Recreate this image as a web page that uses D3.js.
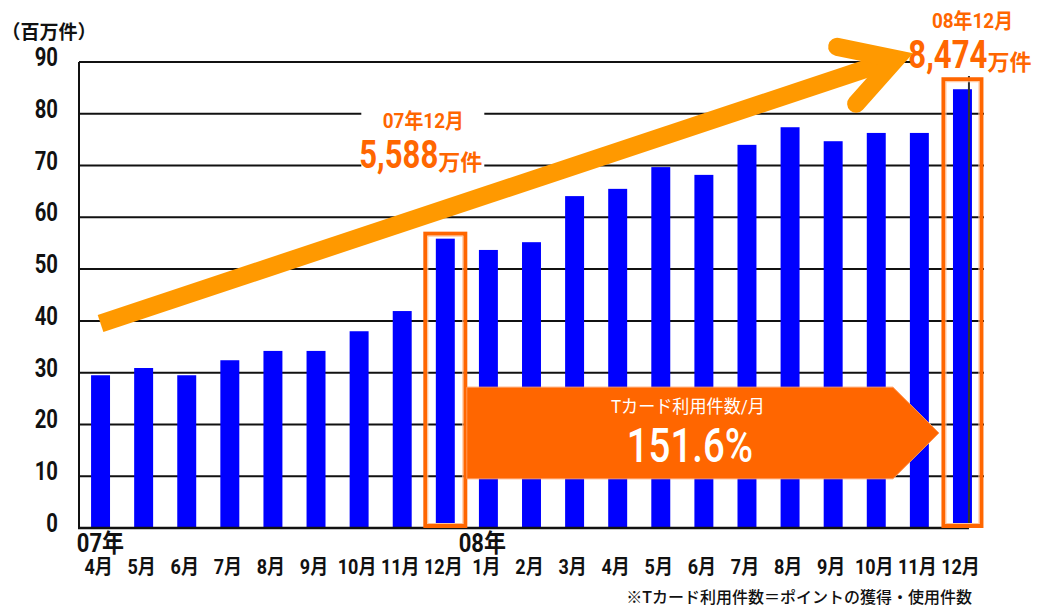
<!DOCTYPE html>
<html>
<head>
<meta charset="utf-8">
<script src="https://cdn.jsdelivr.net/npm/d3@7"></script>
<style>
  html, body { margin: 0; padding: 0; background: #fff; }
  text { font-family: Roboto, "Noto Sans CJK JP", sans-serif; }
</style>
</head>
<body>
<div id="chart"></div>
<script>
const periods = ["2007-04", "2007-05", "2007-06", "2007-07", "2007-08", "2007-09", "2007-10", "2007-11", "2007-12",
                 "2008-01", "2008-02", "2008-03", "2008-04", "2008-05", "2008-06", "2008-07", "2008-08", "2008-09",
                 "2008-10", "2008-11", "2008-12"];
const monthLabels = ["4月", "5月", "6月", "7月", "8月", "9月", "10月", "11月", "12月",
                     "1月", "2月", "3月", "4月", "5月", "6月", "7月", "8月", "9月", "10月", "11月", "12月"];
const values = [29.5, 30.9, 29.5, 32.4, 34.2, 34.2, 38.0, 41.9, 55.88,
                53.7, 55.2, 64.1, 65.5, 69.7, 68.2, 74.0, 77.4, 74.7, 76.3, 76.3, 84.74];
const yTicks = [0, 10, 20, 30, 40, 50, 60, 70, 80, 90];
const yearLabels = ["07年", "08年"];
const yearStarts = ["2007-04", "2008-01"];
const highlightPeriods = ["2007-12", "2008-12"];
const highlightTitles = ["07年12月", "08年12月"];
const highlightNumbers = ["5,588", "8,474"];
const unitLabel = "（百万件）";
const bannerLines = ["Tカード利用件数/月", "151.6%"];
const note = "※Tカード利用件数＝ポイントの獲得・使用件数";

const width = 1038, height = 609;
const orange = "#ff6600", arrowColor = "#ff9900", blue = "#0000ff";

const svg = d3.select("#chart").append("svg")
    .attr("width", width)
    .attr("height", height);

const x = d3.scaleBand()
    .domain(periods)
    .range([79, 984])
    .paddingInner(0.56)
    .paddingOuter(0.28);

const y = d3.scaleLinear()
    .domain([0, 90])
    .range([528, 62]);

const xc = p => x(p) + x.bandwidth() / 2;

// condensed text helper
function label(parent, str, px, py, size, weight, anchor, fill, sx) {
    return parent.append("text")
        .attr("transform", `translate(${px},${py}) scale(${sx},1)`)
        .attr("text-anchor", anchor)
        .style("font-size", size + "px")
        .style("font-weight", weight)
        .style("fill", fill)
        .text(str);
}

// gridlines
svg.append("g").selectAll("line")
    .data(yTicks.filter(d => d > 0))
    .enter().append("line")
    .attr("x1", 79).attr("x2", 984)
    .attr("y1", d => y(d)).attr("y2", d => y(d))
    .attr("stroke", "#111")
    .attr("stroke-width", 2);

// bars
svg.append("g").selectAll("rect")
    .data(values)
    .enter().append("rect")
    .attr("x", (d, i) => x(periods[i]))
    .attr("y", d => y(d))
    .attr("width", x.bandwidth())
    .attr("height", d => y(0) - y(d))
    .attr("fill", blue);

// frame
const lastX = xc(periods[periods.length - 1]) + 6.5;
svg.append("line").attr("x1", 79).attr("x2", 79).attr("y1", y(90)).attr("y2", y(0))
    .attr("stroke", "#111").attr("stroke-width", 2);
svg.append("line").attr("x1", lastX).attr("x2", lastX).attr("y1", y(90)).attr("y2", y(0))
    .attr("stroke", "#333").attr("stroke-width", 2);
svg.append("line").attr("x1", 78).attr("x2", lastX).attr("y1", y(0)).attr("y2", y(0))
    .attr("stroke", "#111").attr("stroke-width", 2.5);

// highlight boxes
highlightPeriods.forEach((p, i) => {
    const v = values[periods.indexOf(p)];
    const half = i === 0 ? 22 : 21;
    const top = y(v) - (i === 0 ? 5 : 10);
    svg.append("rect")
        .attr("x", xc(p) - half + 2).attr("y", top)
        .attr("width", half * 2 - 4).attr("height", y(0) - 2 - top)
        .attr("fill", "none").attr("stroke", orange).attr("stroke-width", 4);
    svg.append("rect")
        .attr("x", xc(p) - half + 4.5).attr("y", top + 2.5)
        .attr("width", half * 2 - 9).attr("height", y(0) - 7 - top)
        .attr("fill", "none").attr("stroke", "#ffc49a").attr("stroke-width", 1);
});

// white backgrounds behind the callouts
svg.append("rect").attr("x", xc("2007-12") - 84).attr("y", 100).attr("width", 123).attr("height", 78).attr("fill", "#fff");
svg.append("rect").attr("x", xc("2008-12") - 50).attr("y", 0).attr("width", 130).attr("height", 76).attr("fill", "#fff");

// trend arrow
const a0 = [xc(periods[0]), y(39.5)];
const a1 = [xc("2008-12") - 66.5, y(90.6)];
const ang = Math.atan2(a1[1] - a0[1], a1[0] - a0[0]);
const armLen = 60;
const arm = s => [a1[0] + armLen * Math.cos(ang + Math.PI + s * Math.PI / 6),
                  a1[1] + armLen * Math.sin(ang + Math.PI + s * Math.PI / 6)];
svg.append("path")
    .attr("d", d3.line()([a0, a1]))
    .attr("stroke", arrowColor).attr("stroke-width", 18).attr("fill", "none");
svg.append("path")
    .attr("d", d3.line()([arm(1), a1, arm(-1)]))
    .attr("stroke", arrowColor).attr("stroke-width", 18).attr("fill", "none")
    .attr("stroke-linecap", "round").attr("stroke-linejoin", "miter");

// banner arrow
const bLeft = xc("2007-12") + 21.5, bTip = xc("2008-12") - 23.5;
const bTop = y(27.2), bBot = y(9.5), bMid = (bTop + bBot) / 2;
svg.append("polygon")
    .attr("points", [[bLeft, bTop], [bTip - 46, bTop], [bTip, bMid], [bTip - 46, bBot], [bLeft, bBot]].join(" "))
    .attr("fill", orange).attr("stroke", "#ff9a5c").attr("stroke-width", 1);
const bCx = (bLeft + bTip - 46) / 2 + 10;
label(svg, bannerLines[0], bCx - 2, bTop + 26, 18, 400, "middle", "#fff", 0.95);
label(svg, bannerLines[1], bCx, bTop + 75, 48, 500, "middle", "#fff", 0.8);

// y tick labels
yTicks.forEach(t => label(svg, t, 58, y(t) + 4, 26, 700, "end", "#111", 0.78));

// unit label
label(svg, unitLabel, 49, 39, 19, 700, "middle", "#111", 1);

// x labels
periods.forEach((p, i) => label(svg, monthLabels[i], xc(p) - 2, 574, 20, 700, "middle", "#111", 0.9));
yearStarts.forEach((p, i) => label(svg, yearLabels[i], xc(p) - x.step() * 0.55 - i * 6, 552, 25, 700, "start", "#111", 0.88));

// callouts
const calloutX = [xc("2007-12") - 22, xc("2008-12") + 10];
const calloutY = [128, 28];
highlightPeriods.forEach((p, i) => {
    label(svg, highlightTitles[i], calloutX[i], calloutY[i], 21, 700, "middle", orange, 0.9);
    label(svg, highlightNumbers[i], calloutX[i] + 15, calloutY[i] + 40, 38, 700, "end", orange, 0.82);
    label(svg, "万件", calloutX[i] + 15, calloutY[i] + 42, 22, 700, "start", orange, 1);
});

// note
label(svg, note, 972, 603, 16, 500, "end", "#111", 1);
</script>
</body>
</html>
